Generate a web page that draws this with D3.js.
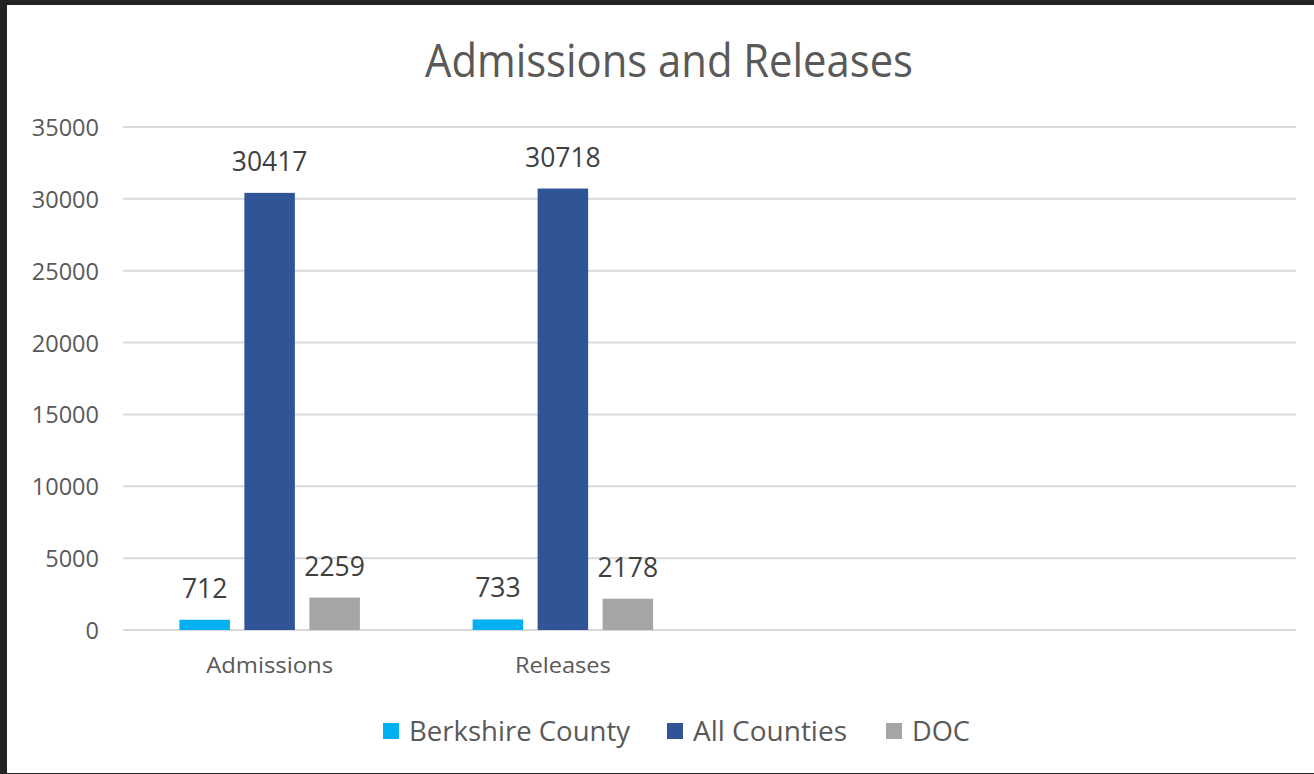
<!DOCTYPE html>
<html><head><meta charset="utf-8">
<script src="https://cdn.jsdelivr.net/npm/d3@7"></script>
<style>html,body{margin:0;padding:0;background:#222;}svg{display:block;}</style>
</head><body>
<script>
const categories = ["Admissions", "Releases", "", " "];
const seriesNames = ["Berkshire County", "All Counties", "DOC"];
const berkshire = [712, 733, null, null];
const allCounties = [30417, 30718, null, null];
const doc = [2259, 2178, null, null];
const yTicks = [0, 5000, 10000, 15000, 20000, 25000, 30000, 35000];
const colors = ["#00B0F0", "#2F5597", "#A5A5A5"];

const W = 1314, H = 774;
const font = "'Open Sans', 'Noto Sans', sans-serif";
const svg = d3.select("body").append("svg").attr("width", W).attr("height", H);
svg.append("rect").attr("x", 0).attr("y", 0).attr("width", W).attr("height", H).attr("fill", "#232323");
svg.append("rect").attr("x", 7).attr("y", 5).attr("width", W - 7).attr("height", H - 6).attr("fill", "#fff");

const L = 123, R = 1296, T = 127, B = 630;
const x = d3.scaleBand().domain(categories).range([L, R]);
const y = d3.scaleLinear().domain([0, 35000]).range([B, T]);
const series = [berkshire, allCounties, doc];
const barW = 50.5, gap = 14.5;
const inner = d3.scaleBand().domain(seriesNames).range([0, 3 * barW + 2 * gap]).paddingInner(gap / (barW + gap));

function fitWidth(sel, target) {
  sel.each(function () {
    const w = this.getComputedTextLength();
    if (w > 0) {
      this.setAttribute("textLength", target);
      this.setAttribute("lengthAdjust", "spacingAndGlyphs");
    }
  });
}

// gridlines
svg.append("g").selectAll("line").data(yTicks).join("line")
  .attr("x1", L).attr("x2", R).attr("y1", d => y(d)).attr("y2", d => y(d))
  .attr("stroke", "#d9d9d9").attr("stroke-width", 2);

// y axis labels
const yAxis = d3.axisLeft(y).tickValues(yTicks).tickSize(0).tickPadding(0).tickFormat(d3.format("d"));
const ya = svg.append("g").attr("transform", `translate(${L - 24},0)`).call(yAxis);
ya.select(".domain").remove();
ya.selectAll("text").attr("font-family", font).attr("font-size", 23.5).attr("fill", "#595959").attr("dy", "0.36em");

// bars
const groupW = 3 * barW + 2 * gap;
series.forEach((vals, si) => {
  const g = svg.append("g");
  const data = categories.map((c, i) => ({c, v: vals[i]})).filter(d => d.v != null);
  g.selectAll("rect").data(data).join("rect")
    .attr("x", d => x(d.c) + x.bandwidth() / 2 - groupW / 2 + inner(seriesNames[si]))
    .attr("width", inner.bandwidth())
    .attr("y", d => y(d.v)).attr("height", d => y(0) - y(d.v))
    .attr("fill", colors[si]);
  g.selectAll("text").data(data).join("text")
    .attr("x", d => x(d.c) + x.bandwidth() / 2 - groupW / 2 + inner(seriesNames[si]) + inner.bandwidth() / 2)
    .attr("y", d => y(d.v) - 22)
    .attr("text-anchor", "middle").attr("font-family", font).attr("font-size", 26.5).attr("fill", "#404040")
    .text(d => d.v);
});

// x axis labels
const xAxis = d3.axisBottom(x).tickSize(0).tickPadding(0);
const xa = svg.append("g").attr("transform", `translate(0,${673})`).call(xAxis);
xa.select(".domain").remove();
xa.selectAll("text").attr("font-family", font).attr("font-size", 22.5).attr("fill", "#595959").attr("dy", 0);
const catW = {"Admissions": 127, "Releases": 96};
xa.selectAll("text").each(function (d) { if (catW[d]) fitWidth(d3.select(this), catW[d]); });

// title
const title = svg.append("text").attr("x", 669).attr("y", 77).attr("text-anchor", "middle")
  .attr("font-family", font).attr("font-size", 45).attr("fill", "#595959").text("Admissions and Releases");
fitWidth(title, 488);

// legend
const legX = [383, 667, 886];
const legW = [221, 154, 58];
const lg = svg.append("g");
seriesNames.forEach((n, i) => {
  lg.append("rect").attr("x", legX[i]).attr("y", 723).attr("width", 16).attr("height", 16).attr("fill", colors[i]);
  const t = lg.append("text").attr("x", legX[i] + 26).attr("y", 741).attr("font-family", font).attr("font-size", 27)
    .attr("fill", "#595959").text(n);
  fitWidth(t, legW[i]);
});
</script>
</body></html>
